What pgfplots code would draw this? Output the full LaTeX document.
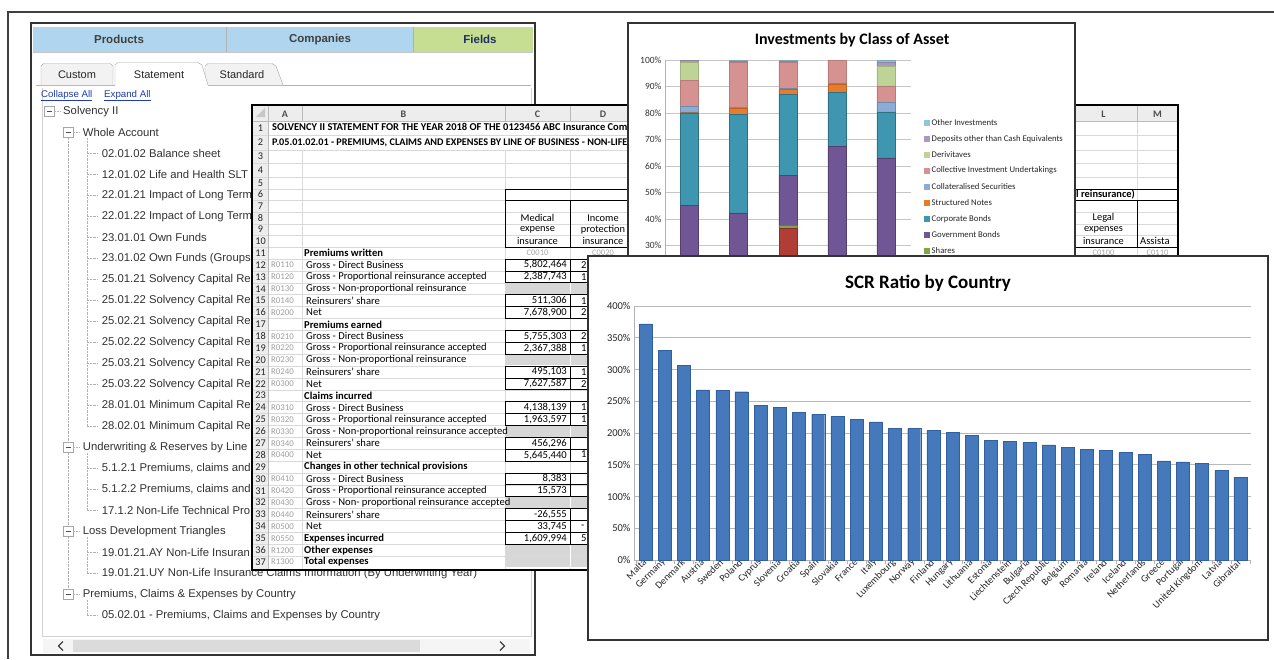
\documentclass[border=0pt]{standalone}
\usepackage{pgfplots}
\pgfplotsset{compat=1.18}
\usepackage{fontspec}
\setmainfont{Carlito}
\newfontfamily\arial{Liberation Sans}

\definecolor{hdrblue}{RGB}{176,213,238}
\definecolor{hdrgreen}{RGB}{197,222,146}
\definecolor{scrbar}{RGB}{70,120,188}
\definecolor{scredge}{RGB}{50,95,160}
\definecolor{cProp}{RGB}{176,62,55}
\definecolor{cShares}{RGB}{130,165,70}
\definecolor{cGov}{RGB}{112,86,148}
\definecolor{cCorp}{RGB}{62,150,176}
\definecolor{cStruct}{RGB}{232,124,44}
\definecolor{cColl}{RGB}{140,172,214}
\definecolor{cCIU}{RGB}{214,146,144}
\definecolor{cDeriv}{RGB}{190,212,150}
\definecolor{cDep}{RGB}{170,152,196}
\definecolor{cOther}{RGB}{140,200,218}
\definecolor{linkblue}{RGB}{30,60,170}
\definecolor{cellgrey}{RGB}{215,215,215}
\definecolor{treetext}{RGB}{50,50,50}

\tikzset{
  tree/.style={anchor=west, inner sep=0, font=\arial\fontsize{11.3}{12}\selectfont, text=treetext},
  rn/.style={inner sep=0, font=\fontsize{10.3}{11}\selectfont, text=black!85},
  cd/.style={anchor=west, inner sep=0, font=\fontsize{8.8}{10}\selectfont, text=gray!75},
  lb/.style={anchor=west, inner sep=0, font=\fontsize{10.6}{11}\selectfont},
  vl/.style={anchor=east, inner sep=0, font=\fontsize{10.6}{11}\selectfont},
  ct/.style={inner sep=0, font=\fontsize{10.4}{11}\selectfont},
}
\newcommand\titem[3]{\node[tree] at (#1,{111.3+21*#2}) {#3};}
\newcommand\tbox[2]{\draw[gray!70, fill=white] ({#1-5},{111.3+21*#2-5}) rectangle ({#1+5},{111.3+21*#2+5});
  \draw[black!70] ({#1-2.5},{111.3+21*#2}) -- ({#1+2.5},{111.3+21*#2});
  \draw[gray!60, densely dotted] ({#1+5},{111.3+21*#2}) -- ({#1+11},{111.3+21*#2});}
\newcommand\srow[4]{%
  \node[rn] at (260.5,{259+11.885*(#1-11.5)}) {#1};
  \node[cd] at (271,{259+11.885*(#1-11.5)}) {#2};
  \node[lb] at (306,{259+11.885*(#1-11.5)}) {#3};
  \node[vl] at (567,{259+11.885*(#1-11.5)}) {#4};}
\newcommand\dval[2]{\node[lb] at (581,{259+11.885*(#1-11.5)}) {#2};}
\newcommand\valbox[1]{\draw[black, line width=0.7pt] (505,{259+11.885*(#1-12)}) rectangle (570,{259+11.885*(#1-11)})
  (570,{259+11.885*(#1-12)}) rectangle (636,{259+11.885*(#1-11)});}
\newcommand\sgrey[1]{\fill[cellgrey] (505.5,{259+11.885*(#1-12)+0.6}) rectangle (635.5,{259+11.885*(#1-11)-0.6});
  \draw[white, line width=1pt] (570,{259+11.885*(#1-12)}) -- (570,{259+11.885*(#1-11)});}

\begin{document}
\begin{tikzpicture}
\useasboundingbox (0,0) rectangle (1274pt,-659pt);
\fill[white] (0,0) rectangle (1274pt,-659pt);

\begin{scope}[x=1pt,y=-1pt]
% ---------- outer frame
\draw[line width=1.3pt, black!75] (8,659) -- (8,12) -- (1274,12);
% ---------- left panel
\fill[white] (31,23) rectangle (535,655);
\fill[hdrblue] (33,27) rectangle (413,52);
\fill[hdrgreen] (414,27) rectangle (533,52);
\draw[gray!60] (226,27)--(226,52) (413.5,27)--(413.5,52);
\draw[gray!45] (33,52)--(533,52);
\node[font=\arial\bfseries\fontsize{11.5}{13}\selectfont, text=black!75] at (119,39.5) {Products};
\node[font=\arial\bfseries\fontsize{11.5}{13}\selectfont, text=black!75] at (320,39.5) {Companies};
\node[font=\arial\bfseries\fontsize{11.5}{13}\selectfont, text={rgb,255:red,35;green,45;blue,95}] at (480,39.5) {Fields};
% tabs
\draw[gray!60] (36,85) -- (531,85);
\draw[gray!70, fill=gray!10] (41,85) -- (41,66) -- (43.5,63.5) -- (110,63.5) -- (113,66) -- (113,85);
\draw[gray!70, fill=gray!10] (205,85) -- (205,66) -- (208,63.5) -- (272,63.5) -- (276,66) -- (283,85);
\fill[white] (115,86) -- (115,65) -- (118,62.5) -- (198,62.5) -- (202,65) -- (208,86) -- cycle;
\draw[gray!70] (115,85) -- (115,65) -- (118,62.5) -- (198,62.5) -- (202,65) -- (208,85);
\node[font=\arial\fontsize{11}{13}\selectfont, text=black!85] at (77,75) {Custom};
\node[font=\arial\fontsize{11}{13}\selectfont, text=black!85] at (159,75) {Statement};
\node[font=\arial\fontsize{11}{13}\selectfont, text=black!85] at (242,75) {Standard};
\draw[gray!35] (42,88) -- (42,636) -- (531,636) -- (531,88);
\node[anchor=west, inner sep=0, font=\arial\fontsize{9.7}{11}\selectfont, text=linkblue] at (41,95.5) {\underline{Collapse All}};
\node[anchor=west, inner sep=0, font=\arial\fontsize{9.7}{11}\selectfont, text=linkblue] at (104,95.5) {\underline{Expand All}};
% tree lines
\draw[gray!60, densely dotted] (68,138) -- (68,589);
\draw[gray!60, densely dotted] (87,138) -- (87,426.3);
\draw[gray!60, densely dotted] (87,453) -- (87,510.3);
\draw[gray!60, densely dotted] (87,537) -- (87,573.3);
\draw[gray!60, densely dotted] (87,600) -- (87,615.3);
\foreach \j in {2,...,15,17,18,19,21,22,24} \draw[gray!60, densely dotted] (87,{111.3+21*\j}) -- (98,{111.3+21*\j});
\tbox{49}{0}
\tbox{68}{1}
\tbox{68}{16}
\tbox{68}{20}
\tbox{68}{23}
\titem{63}{0}{Solvency II}
\titem{82.7}{1}{Whole Account}
\begin{scope}
\clip (31,100) rectangle (251.5,565);
\titem{101.7}{2}{02.01.02 Balance sheet}
\titem{101.7}{3}{12.01.02 Life and Health SLT}
\titem{101.7}{4}{22.01.21 Impact of Long Term}
\titem{101.7}{5}{22.01.22 Impact of Long Term}
\titem{101.7}{6}{23.01.01 Own Funds}
\titem{101.7}{7}{23.01.02 Own Funds (Groups}
\titem{101.7}{8}{25.01.21 Solvency Capital Re}
\titem{101.7}{9}{25.01.22 Solvency Capital Re}
\titem{101.7}{10}{25.02.21 Solvency Capital Re}
\titem{101.7}{11}{25.02.22 Solvency Capital Re}
\titem{101.7}{12}{25.03.21 Solvency Capital Re}
\titem{101.7}{13}{25.03.22 Solvency Capital Re}
\titem{101.7}{14}{28.01.01 Minimum Capital Re}
\titem{101.7}{15}{28.02.01 Minimum Capital Re}
\titem{82.7}{16}{Underwriting \& Reserves by Line}
\titem{101.7}{17}{5.1.2.1 Premiums, claims and}
\titem{101.7}{18}{5.1.2.2 Premiums, claims and}
\titem{101.7}{19}{17.1.2 Non-Life Technical Pro}
\titem{82.7}{20}{Loss Development Triangles}
\titem{101.7}{21}{19.01.21.AY Non-Life Insuran}
\end{scope}
\titem{101.7}{22}{19.01.21.UY Non-Life Insurance Claims Information (By Underwriting Year)}
\titem{82.7}{23}{Premiums, Claims \& Expenses by Country}
\titem{101.7}{24}{05.02.01 - Premiums, Claims and Expenses by Country}
% scrollbar
\fill[gray!8] (43,639) rectangle (530,653);
\fill[gray!28] (73,640) rectangle (420,652);
\draw[black!75, line width=1.3pt] (63,641.5) -- (58.5,646) -- (63,650.5);
\draw[black!75, line width=1.3pt] (500,641.5) -- (504.5,646) -- (500,650.5);
\draw[black!80, line width=1.2pt] (31,23) rectangle (535,655);

% ---------- spreadsheet
\fill[white] (252,105) rectangle (1178,570);
\fill[gray!14] (253,106) rectangle (1178,121);
\fill[gray!14] (253,121) rectangle (268,570);
\foreach \yy in {135,150,163,177,189,200,212,224,235,247} \draw[gray!30] (253,\yy) -- (1178,\yy);
\foreach \n in {0,...,25} \draw[gray!30] (253,{259+11.885*\n}) -- (636,{259+11.885*\n});
\foreach \xx in {302,505,570,636} \draw[gray!30] (\xx,150) -- (\xx,570);
\foreach \xx in {1070,1137} \draw[gray!30] (\xx,121) -- (\xx,258);
\foreach \xx in {268,302,505,570,636,1070,1137} \draw[gray!55] (\xx,106) -- (\xx,121);
\draw[gray!55] (268,121) -- (268,570);
\draw[gray!55] (253,121) -- (1178,121);
\fill[gray!45] (256,117) -- (265,108) -- (265,117) -- cycle;
\foreach \xx/\ll in {285/A,403.5/B,537.5/C,603/D,1103.5/L,1157.5/M}
  \node[font=\bfseries\fontsize{10}{11}\selectfont, text=black!70, inner sep=0] at (\xx,114) {\ll};
\foreach \k/\yy in {1/128,2/142.5,3/156.5,4/170,5/183,6/194.5,7/206,8/218,9/229.5,10/241,11/253}
  \node[rn] at (260.5,\yy) {\k};
\begin{scope}
\clip (268,121) rectangle (627,150);
\node[lb, font=\bfseries\fontsize{10.5}{11}\selectfont] at (272,128) {SOLVENCY II STATEMENT FOR THE YEAR 2018 OF THE 0123456 ABC Insurance Comp};
\node[lb, font=\bfseries\fontsize{10.2}{11}\selectfont] at (272,142.5) {P.05.01.02.01 - PREMIUMS, CLAIMS AND EXPENSES BY LINE OF BUSINESS - NON-LIFE};
\end{scope}
\draw[black, line width=0.8pt] (505,189) rectangle (1178,200);
\begin{scope}
\clip (1076,189) rectangle (1178,200);
\node[lb, anchor=east, font=\bfseries\fontsize{10.4}{11}\selectfont] at (1135,194.5) {proportional reinsurance)};
\end{scope}
\draw[black, line width=0.8pt] (505,200) rectangle (570,247) (570,200) rectangle (636,247) (1070,200) rectangle (1137,247) (1137,200) rectangle (1178,247);
\node[ct] at (537.5,218) {Medical};
\node[ct] at (537.5,229.5) {expense};
\node[ct] at (537.5,241) {insurance};
\node[ct] at (603,218) {Income};
\node[ct] at (603,229.5) {protection};
\node[ct] at (603,241) {insurance};
\node[ct] at (1103.5,218) {Legal};
\node[ct] at (1103.5,229.5) {expenses};
\node[ct] at (1103.5,241) {insurance};
\begin{scope}
\clip (1137,200) rectangle (1178,247);
\node[lb] at (1140,241) {Assista};
\end{scope}
\node[ct, text=gray!70, font=\fontsize{8.5}{10}\selectfont] at (537.5,253) {C0010};
\node[ct, text=gray!70, font=\fontsize{8.5}{10}\selectfont] at (603,253) {C0020};
\node[ct, text=gray!70, font=\fontsize{8.5}{10}\selectfont] at (1103.5,253) {C0100};
\node[ct, text=gray!70, font=\fontsize{8.5}{10}\selectfont] at (1157.5,253) {C0110};
\node[lb, font=\bfseries\fontsize{10.6}{11}\selectfont] at (304,253) {Premiums written};
% grey cells
\sgrey{14} \sgrey{20} \sgrey{26} \sgrey{32} \sgrey{36} \sgrey{37}
% value boxes
\foreach \r in {12,13,15,16,18,19,21,22,24,25,27,28,30,31,33,34,35} {\valbox{\r}}
\srow{12}{R0110}{Gross - Direct Business}{5,802,464}
\srow{13}{R0120}{Gross - Proportional reinsurance accepted}{2,387,743}
\srow{14}{R0130}{Gross - Non-proportional reinsurance}{}
\srow{15}{R0140}{Reinsurers' share}{511,306}
\srow{16}{R0200}{Net}{7,678,900}
\srow{17}{}{\hspace*{-2pt}\textbf{Premiums earned}}{}
\srow{18}{R0210}{Gross - Direct Business}{5,755,303}
\srow{19}{R0220}{Gross - Proportional reinsurance accepted}{2,367,388}
\srow{20}{R0230}{Gross - Non-proportional reinsurance}{}
\srow{21}{R0240}{Reinsurers' share}{495,103}
\srow{22}{R0300}{Net}{7,627,587}
\srow{23}{}{\hspace*{-2pt}\textbf{Claims incurred}}{}
\srow{24}{R0310}{Gross - Direct Business}{4,138,139}
\srow{25}{R0320}{Gross - Proportional reinsurance accepted}{1,963,597}
\srow{26}{R0330}{Gross - Non-proportional reinsurance accepted}{}
\srow{27}{R0340}{Reinsurers' share}{456,296}
\srow{28}{R0400}{Net}{5,645,440}
\srow{29}{}{\hspace*{-2pt}\textbf{Changes in other technical provisions}}{}
\srow{30}{R0410}{Gross - Direct Business}{8,383}
\srow{31}{R0420}{Gross - Proportional reinsurance accepted}{15,573}
\srow{32}{R0430}{Gross - Non- proportional reinsurance accepted}{}
\srow{33}{R0440}{Reinsurers' share}{-26,555}
\srow{34}{R0500}{Net}{33,745}
\srow{35}{R0550}{\hspace*{-2pt}\textbf{Expenses incurred}}{1,609,994}
\srow{36}{R1200}{\hspace*{-2pt}\textbf{Other expenses}}{}
\srow{37}{R1300}{\hspace*{-2pt}\textbf{Total expenses}}{}
\dval{12}{2}
\dval{13}{1}
\dval{15}{1}
\dval{16}{2}
\dval{18}{2}
\dval{19}{1}
\dval{21}{1}
\dval{22}{2}
\dval{24}{1,}
\dval{25}{1}
\dval{28}{1,}
\dval{34}{-}
\dval{35}{5}
\draw[black, line width=1.3pt] (252,105) rectangle (1178,570);

% ---------- investments panel
\fill[white] (628,23) rectangle (1075,256);
\draw[black!80, line width=1.2pt] (628,23) rectangle (1075,256);
\node[font=\bfseries\fontsize{16}{18}\selectfont] at (852,40) {Investments by Class of Asset};
\foreach \k/\c/\t in {0/cOther/Other Investments, 1/cDep/Deposits other than Cash Equivalents, 2/cDeriv/Derivitaves, 3/cCIU/Collective Investment Undertakings, 4/cColl/Collateralised Securities, 5/cStruct/Structured Notes, 6/cCorp/Corporate Bonds, 7/cGov/Government Bonds, 8/cShares/Shares} {
  \fill[\c] (924,{122.7+16*\k-3}) rectangle (930,{122.7+16*\k+3});
  \node[anchor=west, inner sep=0, font=\fontsize{8.7}{10}\selectfont, text=black!85] at (931.5,{122.7+16*\k}) {\t};
}
\end{scope}

\begin{axis}[
  at={(665pt,-325pt)}, anchor=south west, scale only axis,
  width=245.5pt, height=265pt,
  xmin=-0.5, xmax=4.5, ymin=0, ymax=100, enlargelimits=false,
  ybar stacked, bar width=18pt,
  ytick={30,40,...,100}, yticklabel={\pgfmathprintnumber{\tick}\%},
  xtick=\empty,
  axis lines*=left, x axis line style={draw=none}, y axis line style={gray!60},
  major tick length=0pt,
  ymajorgrids, major grid style={gray!45, line width=0.6pt},
  yticklabel style={font=\fontsize{9.5}{11}\selectfont, text=black!80},
  /pgf/number format/assume math mode=true,
  clip=false,
]
\addplot[fill=cProp, draw=cProp!75!black] coordinates {(0,0) (1,0) (2,36.4) (3,0) (4,0)};
\addplot[fill=cShares, draw=cShares!75!black] coordinates {(0,0.5) (1,0.3) (2,1.1) (3,0.5) (4,0.5)};
\addplot[fill=cGov, draw=cGov!75!black] coordinates {(0,44.6) (1,42.0) (2,19.0) (3,67.0) (4,62.6)};
\addplot[fill=cCorp, draw=cCorp!75!black] coordinates {(0,35.0) (1,37.2) (2,30.5) (3,20.2) (4,17.3)};
\addplot[fill=cStruct, draw=cStruct!80!black] coordinates {(0,0.3) (1,2.5) (2,1.9) (3,3.1) (4,0)};
\addplot[fill=cColl, draw=cColl!80!black] coordinates {(0,2.0) (1,0.2) (2,0.3) (3,0.3) (4,3.5)};
\addplot[fill=cCIU, draw=cCIU!85!black] coordinates {(0,10.0) (1,17.0) (2,10.0) (3,8.9) (4,6.3)};
\addplot[fill=cDeriv, draw=cDeriv!85!black] coordinates {(0,6.6) (1,0) (2,0) (3,0) (4,7.3)};
\addplot[fill=cDep, draw=cDep!85!black] coordinates {(0,0.8) (1,0.5) (2,0.5) (3,0) (4,1.5)};
\addplot[fill=cOther, draw=cOther!85!black] coordinates {(0,0.2) (1,0.3) (2,0.3) (3,0) (4,1.0)};
\end{axis}

\begin{scope}[x=1pt,y=-1pt]
\fill[white] (588,256) rectangle (1268,640);
\draw[black!80, line width=1.2pt] (588,256) rectangle (1268,640);
\node[font=\bfseries\fontsize{19}{22}\selectfont] at (928,283.5) {SCR Ratio by Country};
\end{scope}

\begin{axis}[
  at={(634pt,-560pt)}, anchor=south west, scale only axis,
  width=617pt, height=254pt,
  xmin=-0.6, xmax=31.55, ymin=0, ymax=400, enlargelimits=false,
  ybar, bar width=13pt,
  axis lines*=left, axis line style={gray!60},
  ytick={0,50,...,400}, yticklabel={\pgfmathprintnumber{\tick}\%},
  xtick={0,...,31},
  xticklabels={Malta,Germany,Denmark,Austria,Sweden,Poland,Cyprus,Slovenia,Croatia,Spain,Slovakia,France,Italy,Luxembourg,Norway,Finland,Hungary,Lithuania,Estonia,Liechtenstein,Bulgaria,Czech Republic,Belgium,Romania,Ireland,Iceland,Netherlands,Greece,Portugal,United Kingdom,Latvia,Gibraltar},
  minor xtick={-0.5,0.5,...,31.5},
  tick align=outside, major tick length=0pt, minor tick length=4pt, tick style={gray!60},
  ymajorgrids, major grid style={gray!55, line width=0.7pt},
  xticklabel style={rotate=45, anchor=east, inner sep=1pt, font=\fontsize{10}{12}\selectfont, text=black!85},
  yticklabel style={font=\fontsize{10.5}{12}\selectfont, text=black!85},
  /pgf/number format/assume math mode=true,
  clip=false,
]
\addplot[fill=scrbar, draw=scredge] coordinates {
 (0,372) (1,330) (2,307) (3,268) (4,267) (5,265) (6,244) (7,240) (8,232) (9,229.5)
 (10,226) (11,221.5) (12,217.5) (13,207) (14,207) (15,204) (16,201) (17,196)
 (18,188.5) (19,187) (20,185) (21,181.5) (22,177.5) (23,174) (24,172.5) (25,169)
 (26,166.5) (27,156) (28,154.5) (29,152.5) (30,141) (31,130.5)};
\end{axis}
\end{tikzpicture}
\end{document}
